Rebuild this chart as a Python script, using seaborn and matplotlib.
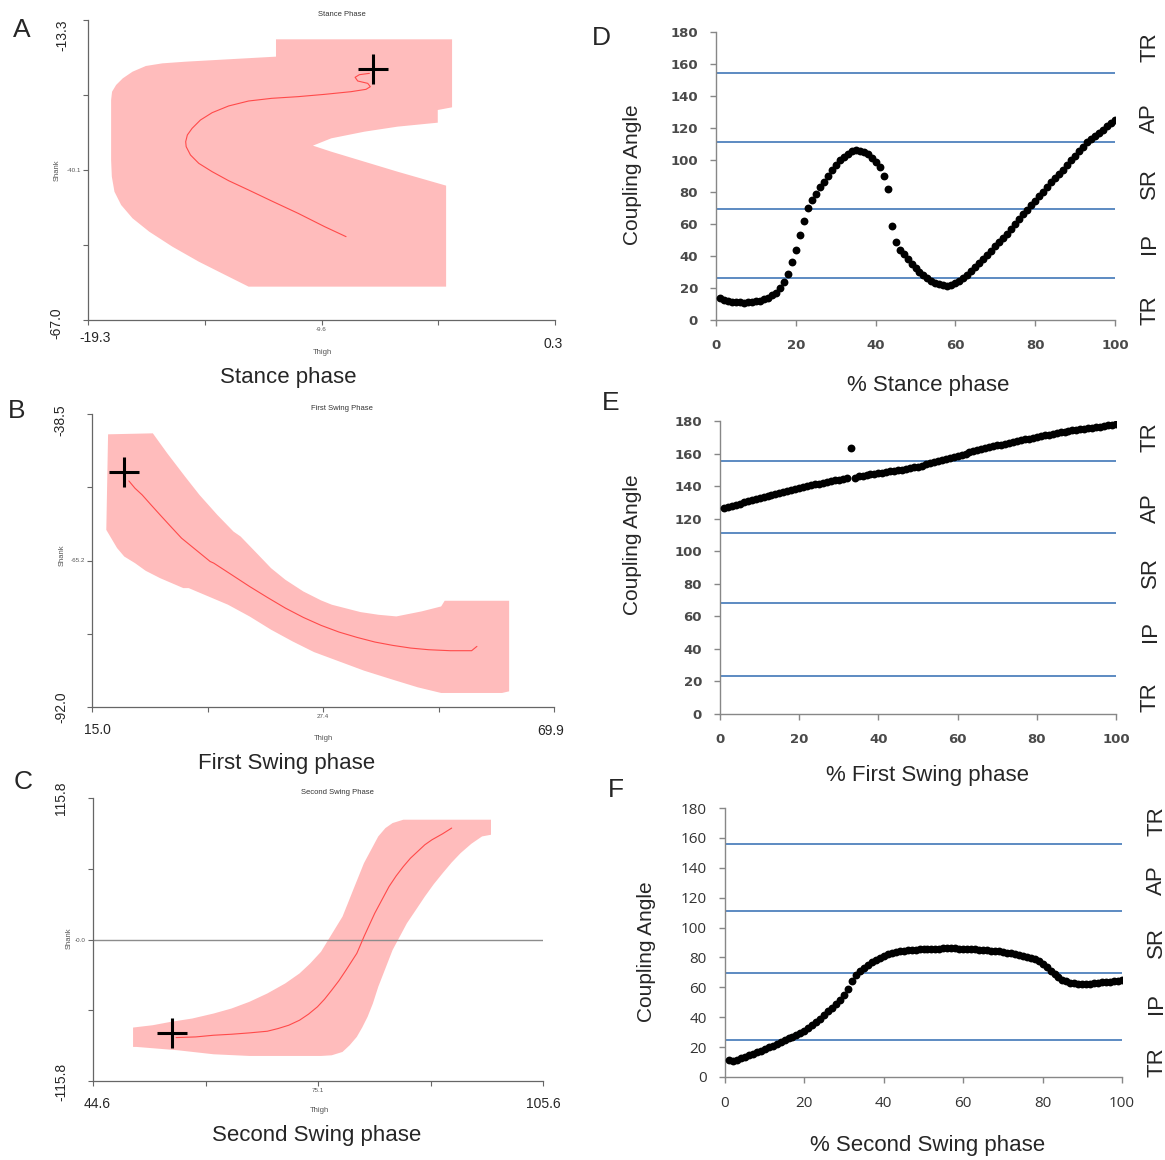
import numpy as np
import pandas as pd
import seaborn as sns
import matplotlib.pyplot as plt
from matplotlib.transforms import blended_transform_factory

# ---- phase plane data (thigh angle vs shank angle): SD band outline, mean curve, start point
stance_band_x = [-11.41, -4.02, -4.02, -4.62, -4.62, -6.31, -7.70, -9.09, -9.86, -9.09, -7.70, -6.31, -4.27,
                 -4.27, -12.56, -13.54, -14.65, -15.76, -16.73, -17.43, -17.91, -18.19, -18.30, -18.33, -18.33,
                 -18.29, -18.12, -17.84, -17.43, -16.87, -16.18, -15.20, -11.41]
stance_band_y = [-16.76, -16.76, -28.93, -29.41, -31.68, -32.39, -33.29, -34.48, -35.79, -36.87, -38.66, -40.45,
                 -42.95, -61.03, -61.03, -58.94, -56.56, -53.87, -51.19, -48.80, -46.41, -44.03, -41.34, -38.36,
                 -27.62, -26.13, -24.93, -23.74, -22.55, -21.53, -21.06, -20.76, -19.86]
stance_mean_x = [-8.47, -9.37, -10.48, -11.59, -12.56, -13.40, -14.09, -14.65, -15.00, -15.18, -15.20, -15.13,
                 -14.93, -14.58, -14.09, -13.40, -12.56, -11.59, -10.48, -9.37, -8.26, -7.63, -7.45, -7.56,
                 -7.98, -8.09, -7.91, -7.49]
stance_mean_y = [-52.08, -50.29, -47.91, -45.70, -43.73, -42.06, -40.45, -38.96, -37.46, -35.97, -35.08, -33.88,
                 -32.69, -31.20, -29.89, -28.69, -27.80, -27.32, -27.02, -26.61, -26.13, -25.71, -25.23, -24.64,
                 -24.22, -23.56, -23.09, -22.85]
stance_start = [-7.33, -22.13]

swing1_band_x = [16.91, 22.23, 23.94, 26.06, 27.77, 29.89, 31.81, 32.66, 34.57, 36.28, 37.98, 40.11, 42.23, 43.51,
                 46.91, 49.04, 51.17, 54.15, 56.49, 56.91, 64.57, 64.57, 63.72, 56.49, 53.72, 50.74, 47.34, 44.36,
                 41.38, 38.83, 36.28, 33.72, 31.17, 26.49, 25.85, 23.09, 21.38, 20.11, 18.83, 17.98, 16.70]
swing1_band_y = [-42.21, -42.03, -45.67, -49.93, -53.27, -56.92, -59.96, -60.87, -63.91, -66.65, -68.77, -70.90,
                 -72.54, -73.33, -74.67, -75.16, -75.46, -74.55, -73.64, -72.60, -72.60, -89.14, -89.44, -89.44,
                 -88.41, -87.01, -85.37, -83.67, -81.97, -80.02, -77.89, -75.46, -73.33, -70.29, -70.29, -68.47,
                 -67.13, -65.73, -64.52, -62.98, -59.66]
swing1_mean_x = [19.38, 20.11, 20.96, 22.02, 23.09, 24.36, 25.64, 27.34, 29.04, 29.47, 31.60, 33.72, 35.85, 37.98,
                 40.11, 42.23, 44.36, 46.49, 48.62, 50.74, 52.87, 55.00, 57.55, 60.11, 60.74]
swing1_mean_y = [-50.72, -52.06, -53.27, -55.10, -56.92, -59.05, -61.17, -63.30, -65.43, -65.73, -67.86, -69.99,
                 -72.00, -73.94, -75.64, -77.10, -78.32, -79.29, -80.14, -80.75, -81.24, -81.54, -81.72, -81.72,
                 -80.93]
swing1_start = [18.83, -49.02]

swing2_band_x = [50.03, 52.70, 55.13, 58.04, 60.95, 63.38, 65.80, 68.23, 70.66, 72.60, 74.05, 75.51, 76.48, 77.45,
                 78.42, 79.15, 79.87, 80.60, 81.33, 82.30, 83.27, 84.24, 85.21, 86.67, 98.55, 98.55, 97.34, 95.89,
                 94.43, 93.22, 92.00, 90.79, 89.58, 88.37, 87.15, 86.18, 85.21, 84.24, 83.27, 82.54, 81.82, 81.09,
                 80.36, 79.39, 78.42, 76.96, 75.51, 65.80, 60.95, 56.10, 50.52, 50.03]
swing2_band_y = [-72.06, -70.15, -67.41, -64.68, -60.58, -56.47, -51.00, -44.17, -35.96, -27.76, -19.56, -9.99,
                 -0.41, 9.16, 18.73, 29.66, 40.60, 51.54, 62.48, 73.42, 84.35, 91.19, 95.29, 98.03, 98.03, 85.72,
                 84.35, 78.34, 70.68, 63.02, 54.27, 45.25, 35.13, 24.19, 13.26, 2.32, -8.62, -23.66, -38.70, -52.37,
                 -63.31, -72.06, -79.71, -86.55, -92.02, -94.76, -95.30, -95.30, -93.93, -90.65, -87.92, -87.92]
swing2_mean_x = [55.86, 58.53, 60.95, 63.38, 65.80, 68.23, 69.68, 71.14, 72.60, 73.81, 75.02, 75.99, 76.96, 77.93,
                 78.90, 79.63, 80.36, 80.85, 81.33, 82.06, 82.79, 83.76, 84.73, 85.70, 86.67, 87.64, 88.61, 89.58,
                 90.55, 92.00, 93.22]
swing2_mean_y = [-80.26, -79.72, -78.35, -77.53, -76.43, -75.07, -72.88, -70.15, -66.04, -61.12, -55.10, -48.82,
                 -41.43, -33.78, -25.03, -18.19, -11.36, -4.52, 2.32, 11.89, 21.46, 32.40, 43.34, 52.09, 59.74,
                 66.58, 72.05, 77.52, 81.62, 86.54, 91.19]
swing2_start = [55.37, -76.43]

# axis ranges and tick labels of the phase plots
stance_xlim, stance_ylim = [-19.3, 0.3], [-67.0, -13.3]
swing1_xlim, swing1_ylim = [15.0, 69.9], [-92.0, -38.5]
swing2_xlim, swing2_ylim = [44.6, 105.6], [-115.8, 115.8]
stance_mid = ['-9.6', '-40.1']
swing1_mid = ['27.4', '-65.2']
swing2_mid = ['75.1', '-0.0']

# ---- coupling angle data (% of phase, 1..100)
pct = list(range(1, 101))
ca_stance = [14, 12.5, 12, 11.5, 11.5, 11, 10.5, 11, 11.5, 12,
             12, 13, 14, 15.5, 17, 20, 24, 29, 36, 44,
             53, 62, 70, 75, 79, 83, 86, 90, 94, 97,
             100, 102, 104, 105.5, 106, 105.5, 105, 103.5, 101.5, 99,
             95.5, 90, 82, 59, 48.5, 44, 41, 38, 35, 32.5,
             30, 28, 26, 24.5, 23, 22.5, 21.8, 21.5, 22, 23,
             24.5, 26, 28, 30.5, 33, 35.5, 38, 40.5, 43, 46,
             48.5, 51, 54, 57, 60, 63, 66, 69, 72, 74.5,
             77.5, 80, 83, 86, 88.5, 91.5, 94, 97, 100, 102.5,
             105.5, 108, 111, 113, 115, 117, 119, 121, 123, 125]
ca_swing1 = [126.5, 127, 127.6, 128.4, 129.2, 130, 130.8, 131.5, 132.3, 133,
             133.6, 134.2, 134.8, 135.4, 136, 136.6, 137.2, 137.8, 138.4, 139,
             139.5, 140, 140.5, 141, 141.5, 142, 142.5, 143, 143.5, 144,
             144.5, 145, 163.5, 145, 146, 146.4, 146.8, 147.2, 147.6, 148,
             148.3, 148.6, 149, 149.3, 149.7, 150.1, 150.6, 151.1, 151.5, 152,
             152.6, 153.3, 154, 154.7, 155.4, 156, 156.7, 157.4, 158, 158.7,
             159.4, 160, 160.7, 161.4, 162, 162.6, 163.2, 163.8, 164.4, 165,
             165.5, 166, 166.6, 167.2, 167.7, 168.2, 168.7, 169.2, 169.7, 170.2,
             170.7, 171.2, 171.7, 172.1, 172.6, 173, 173.4, 173.9, 174.3, 174.7,
             175, 175.3, 175.7, 176, 176.3, 176.6, 177, 177.3, 177.6, 178]
ca_swing2 = [11.2, 11, 11.3, 12.5, 13.5, 14.5, 15.5, 16.5, 17.5, 19,
             20, 21, 22, 23.5, 24.8, 26, 27, 28.3, 29.5, 30.6,
             32.5, 34.5, 36.8, 39, 41.5, 44, 46.5, 49, 51.5, 55,
             59, 64, 68, 71, 73, 75, 77, 78.5, 79.8, 81,
             82, 82.8, 83.4, 84, 84.4, 84.7, 85, 85.2, 85.4, 85.6,
             85.7, 85.8, 85.9, 85.9, 86, 86, 86, 86, 85.9, 85.8,
             85.7, 85.6, 85.4, 85.2, 85, 84.8, 84.6, 84.3, 84, 83.6,
             83.2, 82.8, 82.3, 81.8, 81.2, 80.6, 79.8, 78.8, 77.3, 75.5,
             73.3, 71, 68.8, 66.8, 65.2, 64, 63.2, 62.7, 62.5, 62.4,
             62.4, 62.5, 62.7, 63, 63.3, 63.6, 63.9, 64.1, 64.4, 64.6]
zones_stance = [154.5, 111.2, 69.2, 26.0]
zones_swing1 = [155.2, 111.4, 68.3, 23.4]
zones_swing2 = [156.2, 111.3, 69.3, 24.8]
zone_names = ['TR', 'AP', 'SR', 'IP', 'TR']
zone_label_y = [[170.6, 126.3, 85.6, 48.1, 6.3],
                [170.2, 126.6, 87.2, 50.4, 10.4],
                [171.3, 131.8, 89.7, 49.5, 10.0]]

sns.set_theme(style="ticks")
plt.rcParams['font.family'] = ['Liberation Sans', 'DejaVu Sans']

W, H = 1165, 1160
fig = plt.figure(figsize=(W / 100, H / 100), dpi=100)


def px_axes(l, t, r, b):
    return fig.add_axes([l / W, 1 - b / H, (r - l) / W, (b - t) / H])


def ftext(x, y, s, **kw):
    kw.setdefault('ha', 'center')
    kw.setdefault('va', 'center')
    fig.text(x / W, 1 - y / H, s, **kw)


# ---------- left column: phase plots ----------
left = [
    dict(box=(88, 20, 555, 320), xlim=stance_xlim, ylim=stance_ylim, mid=stance_mid,
         bx=stance_band_x, by=stance_band_y, mx=stance_mean_x, my=stance_mean_y, start=stance_start,
         title='Stance Phase', tpos=(342, 14), shank=(57, 170), thigh=(322, 353),
         xl=((95, 338), (553, 344)), yl=((62, 35), (56, 323)), name='Stance phase', npos=(288, 377),
         letter='A', lpos=(22, 30), zero=False),
    dict(box=(92, 414, 554, 707), xlim=swing1_xlim, ylim=swing1_ylim, mid=swing1_mid,
         bx=swing1_band_x, by=swing1_band_y, mx=swing1_mean_x, my=swing1_mean_y, start=swing1_start,
         title='First Swing Phase', tpos=(342, 409), shank=(62, 555), thigh=(323, 738),
         xl=((97, 730), (551, 731)), yl=((60, 420), (61, 707)), name='First Swing phase', npos=(287, 764),
         letter='B', lpos=(17, 411), zero=False),
    dict(box=(93, 798, 543, 1081), xlim=swing2_xlim, ylim=swing2_ylim, mid=swing2_mid,
         bx=swing2_band_x, by=swing2_band_y, mx=swing2_mean_x, my=swing2_mean_y, start=swing2_start,
         title='Second Swing Phase', tpos=(337, 793), shank=(69, 938), thigh=(319, 1111),
         xl=((97, 1104), (543, 1104)), yl=((61, 798), (61, 1082)), name='Second Swing phase', npos=(317, 1136),
         letter='C', lpos=(23, 782), zero=True),
]

for p in left:
    ax = px_axes(*p['box'])
    ax.fill(p['bx'], p['by'], color='#ffbcbc', lw=0, zorder=1)
    if p['zero']:
        ax.axhline(0, color='#8c8c8c', lw=1.0, zorder=2)
    sns.lineplot(x=p['mx'], y=p['my'], sort=False, estimator=None, color='#ff4a4a', lw=0.8, ax=ax, zorder=3)
    ax.plot(p['start'][0], p['start'][1], marker='+', ms=22, mew=2.2, color='black', zorder=4)
    ax.set_xlim(p['xlim'])
    ax.set_ylim(p['ylim'])
    ax.set_xticks(np.linspace(p['xlim'][0], p['xlim'][1], 5))
    ax.set_yticks(np.linspace(p['ylim'][0], p['ylim'][1], 5))
    ax.set_xticklabels(['', '', p['mid'][0], '', ''])
    ax.set_yticklabels(['', '', p['mid'][1], '', ''])
    ax.tick_params(length=3.5, width=0.8, color='#666666', labelsize=4.5, labelcolor='#555555', pad=1.5)
    sns.despine(ax=ax)
    for s in ('left', 'bottom'):
        ax.spines[s].set_color('#666666')
        ax.spines[s].set_linewidth(0.9)
    ax.set_facecolor('none')

    ftext(*p['tpos'], p['title'], fontsize=5.5, color='#333333')
    ftext(*p['shank'], 'Shank', fontsize=5.5, color='#555555', rotation=90)
    ftext(*p['thigh'], 'Thigh', fontsize=5.5, color='#555555')
    ftext(*p['xl'][0], f"{p['xlim'][0]:.1f}", fontsize=10)
    ftext(*p['xl'][1], f"{p['xlim'][1]:.1f}", fontsize=10)
    ftext(*p['yl'][0], f"{p['ylim'][1]:.1f}", fontsize=10, rotation=90)
    ftext(*p['yl'][1], f"{p['ylim'][0]:.1f}", fontsize=10, rotation=90)
    ftext(*p['npos'], p['name'], fontsize=16)
    ftext(*p['lpos'], p['letter'], fontsize=19)

# ---------- right column: coupling angles ----------
right = [
    dict(box=(716, 32, 1115, 320), y=ca_stance, zones=zones_stance, zl=zone_label_y[0],
         ylab=(633, 175), xlab=(928, 386), name='% Stance phase', letter='D', lpos=(601, 38),
         tfont=dict(family='DejaVu Sans', weight='bold', size=9.5), tcol='#4a4a4a'),
    dict(box=(720, 421, 1116, 714), y=ca_swing1, zones=zones_swing1, zl=zone_label_y[1],
         ylab=(633, 545), xlab=(928, 775), name='% First Swing phase', letter='E', lpos=(611, 403),
         tfont=dict(family='DejaVu Sans', weight='bold', size=9.5), tcol='#4a4a4a'),
    dict(box=(725, 808, 1122, 1077), y=ca_swing2, zones=zones_swing2, zl=zone_label_y[2],
         ylab=(647, 952), xlab=(928, 1146), name='% Second Swing phase', letter='F', lpos=(616, 790),
         tfont=dict(family='Open Sans', weight='normal', size=11), tcol='#333333'),
]

for p in right:
    ax = px_axes(*p['box'])
    df = pd.DataFrame({'pct': pct, 'angle': p['y']})
    for z in p['zones']:
        ax.axhline(z, color='#4f81bd', lw=1.3, zorder=1)
    sns.scatterplot(data=df, x='pct', y='angle', color='black', s=32, linewidth=0, ax=ax, zorder=3)
    ax.set_xlim(0, 100)
    ax.set_ylim(0, 180)
    ax.set_xticks(range(0, 101, 20))
    ax.set_yticks(range(0, 181, 20))
    ax.set_xlabel('')
    ax.set_ylabel('')
    ax.tick_params(axis='x', length=4, width=1, color='#878787', pad=10)
    ax.tick_params(axis='y', length=4, width=1, color='#878787', pad=9)
    for lab in ax.get_xticklabels() + ax.get_yticklabels():
        lab.set_fontfamily(p['tfont']['family'])
        lab.set_fontweight(p['tfont']['weight'])
        lab.set_fontsize(p['tfont']['size'])
        lab.set_color(p['tcol'])
    sns.despine(ax=ax)
    for s in ('left', 'bottom'):
        ax.spines[s].set_color('#878787')
        ax.spines[s].set_linewidth(1.0)
    ax.set_facecolor('none')

    trans = blended_transform_factory(ax.transAxes, ax.transData)
    for name, yy in zip(zone_names, p['zl']):
        ax.text(1.087, yy, name, transform=trans, rotation=90, ha='center', va='center', fontsize=16)

    ftext(*p['ylab'], 'Coupling Angle', fontsize=15, rotation=90)
    ftext(*p['xlab'], p['name'], fontsize=16)
    ftext(*p['lpos'], p['letter'], fontsize=19)

fig.savefig('out.png', dpi=100)
